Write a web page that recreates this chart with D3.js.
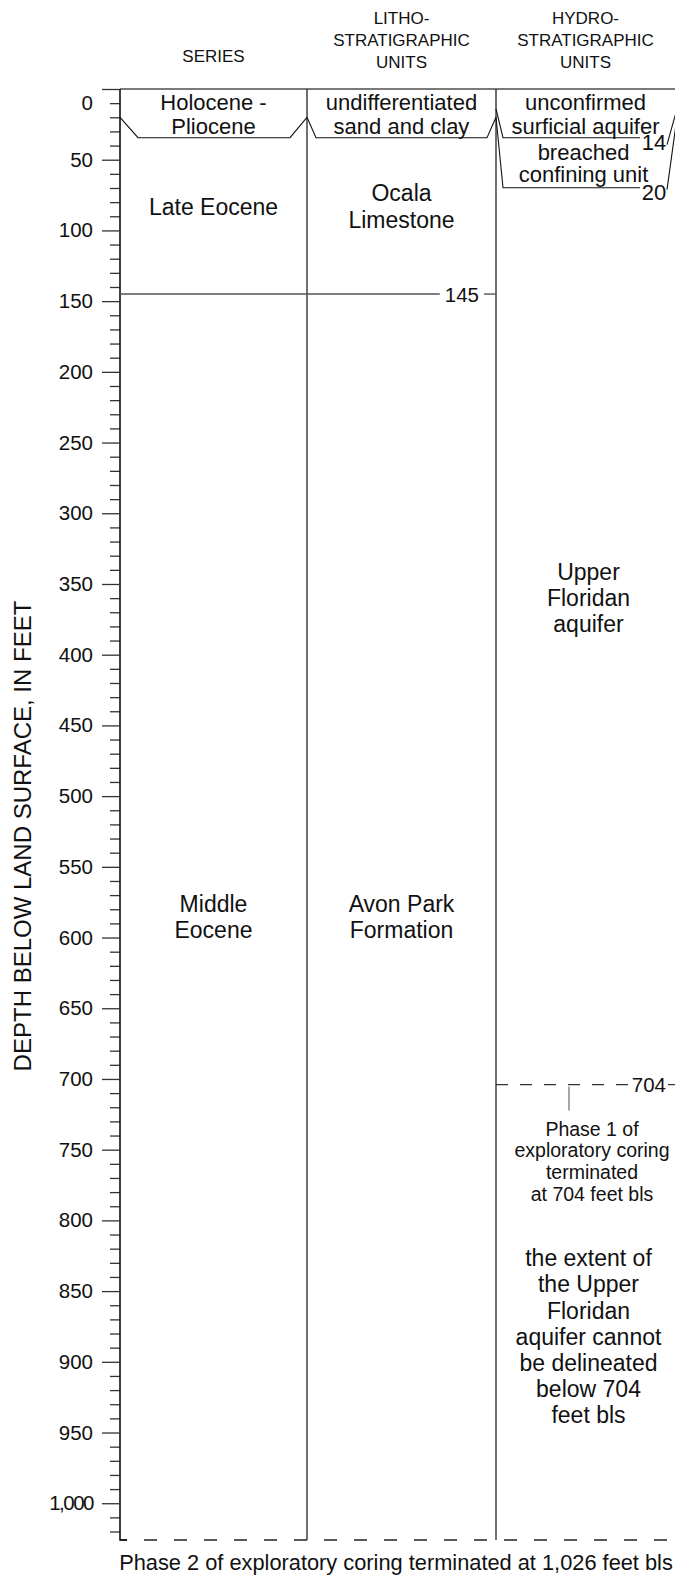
<!DOCTYPE html>
<html>
<head>
<meta charset="utf-8">
<script src="https://cdn.jsdelivr.net/npm/d3@7"></script>
<style>
  html, body { margin: 0; padding: 0; background: #fff; }
  svg { display: block; font-family: "Liberation Sans", Arial, Helvetica, sans-serif; }
</style>
</head>
<body>
<svg id="chart" width="675" height="1575"></svg>
<script>
// ---- Depth axis (feet below land surface) ----
const majorTicks = d3.range(0, 1001, 50);
const minorTicks = d3.range(0, 1021, 10);
const totalDepth = 1026;
const axisTitle = "DEPTH BELOW LAND SURFACE, IN FEET";

// ---- Column headings ----
const headers = [["SERIES"], ["LITHO-", "STRATIGRAPHIC", "UNITS"], ["HYDRO-", "STRATIGRAPHIC", "UNITS"]];

// ---- Series ----
const seriesNames   = [["Holocene -", "Pliocene"], ["Late Eocene"], ["Middle", "Eocene"]];
const seriesTops    = [0, 20, 145];
const seriesBottoms = [20, 145, 1026];

// ---- Lithostratigraphic units ----
const lithoNames   = [["undifferentiated", "sand and clay"], ["Ocala", "Limestone"], ["Avon Park", "Formation"]];
const lithoTops    = [0, 20, 145];
const lithoBottoms = [20, 145, 1026];

// ---- Hydrostratigraphic units ----
const hydroNames   = [["unconfirmed", "surficial aquifer"], ["breached", "confining unit"], ["Upper", "Floridan", "aquifer"]];
const hydroTops    = [0, 14, 20];
const hydroBottoms = [14, 20, 704];

// ---- Coring notes ----
const phase1Depth = 704;
const phase2Depth = 1026;
const phase1Note = ["Phase 1 of", "exploratory coring", "terminated", "at 704 feet bls"];
const extentNote = ["the extent of", "the Upper", "Floridan", "aquifer cannot", "be delineated", "below 704", "feet bls"];
const phase2Note = "Phase 2 of exploratory coring terminated at 1,026 feet bls";

// =====================================================================
const svg = d3.select("#chart");
const INK = "#111";
const y = d3.scaleLinear().domain([0, totalDepth]).range([89, 1540]);
const colEdges = [120, 307, 496, 677];
const colMid = i => (colEdges[i] + colEdges[i + 1]) / 2;
const thinFont = 22;   // near-surface unit names
const mainFont = 23;   // unit names in the body of each column

// Expanded rows used to print the thin near-surface units legibly
const thinRowLine = [137.7, 187.7];           // drawn contact lines
const thinRowBase = [[110, 134], [160, 182]]; // text baselines of each thin unit

function multiline(g, lines, cx, firstBaseline, step, size) {
  const t = g.append("text")
    .attr("text-anchor", "middle")
    .attr("font-size", size)
    .attr("fill", INK);
  lines.forEach((ln, k) => {
    t.append("tspan").attr("x", cx).attr("y", firstBaseline + k * step).text(ln);
  });
  return t;
}
// centre a block of lines on a depth
function block(g, lines, cx, depth, step, size) {
  const first = y(depth) + size * 0.36 - (lines.length - 1) * step / 2;
  return multiline(g, lines, cx, first, step, size);
}

// ---- Headings ----
const hg = svg.append("g");
headers.forEach((lines, i) => {
  const step = 22;
  const last = lines.length === 1 ? 62 : 68;
  multiline(hg, lines, colMid(i) - (i === 2 ? 1 : 0), last - (lines.length - 1) * step, step, 17);
});

// ---- Frame: land surface line, column dividers, base of coring ----
const frame = svg.append("g");
frame.append("line")
  .attr("x1", colEdges[0]).attr("x2", 675)
  .attr("y1", y(0)).attr("y2", y(0))
  .attr("stroke", "#7a7a7a").attr("stroke-width", 2);

[1, 2].forEach(i => {
  frame.append("line")
    .attr("x1", colEdges[i]).attr("x2", colEdges[i])
    .attr("y1", y(0)).attr("y2", y(phase2Depth))
    .attr("stroke", INK).attr("stroke-width", 1.2);
});

frame.append("line")
  .attr("x1", colEdges[0]).attr("x2", 675)
  .attr("y1", y(phase2Depth)).attr("y2", y(phase2Depth))
  .attr("stroke", "#222").attr("stroke-width", 1.3)
  .attr("stroke-dasharray", "13,17").attr("stroke-dashoffset", 6);

frame.append("text")
  .attr("x", 396).attr("y", y(phase2Depth) + 30)
  .attr("text-anchor", "middle")
  .attr("font-size", 21.8).attr("fill", INK)
  .text(phase2Note);

// ---- Depth axis ----
const minorAxis = d3.axisLeft(y)
  .tickValues(minorTicks.filter(d => d % 50 !== 0))
  .tickSize(10).tickSizeOuter(0).tickFormat("");
const majorAxis = d3.axisLeft(y)
  .tickValues(majorTicks)
  .tickSize(18).tickSizeOuter(0).tickPadding(9)
  .tickFormat(d3.format(","));

const ag1 = svg.append("g").attr("transform", `translate(${colEdges[0]},0)`).call(minorAxis);
ag1.select(".domain").remove();
ag1.selectAll(".tick line").attr("stroke", "#333").attr("stroke-width", 1.3);

const ag2 = svg.append("g").attr("transform", `translate(${colEdges[0]},0)`).call(majorAxis);
ag2.select(".domain").attr("stroke", INK).attr("stroke-width", 1.6)
  .attr("d", `M0,${y(0)}V${y(phase2Depth)}H7`);
ag2.selectAll(".tick line").attr("stroke", "#333").attr("stroke-width", 1.3);
ag2.selectAll(".tick text")
  .attr("font-family", "Liberation Sans, Arial, sans-serif")
  .attr("font-size", 20.5).attr("fill", INK);
// the "0" label sits just under the land-surface line
ag2.selectAll(".tick").filter(d => d === 0).select("text").attr("transform", "translate(0,14)");
// the thousands label is set a little tighter
ag2.selectAll(".tick").filter(d => d >= 1000).select("text").attr("letter-spacing", -1.5);

svg.append("text")
  .attr("transform", `translate(31,836) rotate(-90)`)
  .attr("text-anchor", "middle")
  .attr("font-size", 24).attr("fill", INK)
  .text(axisTitle);

// ---- Unit contacts and labels ----
const layers = svg.append("g");

// thin surface units drawn on expanded rows with connectors to true depth
function thinContact(col, depth, row, insetL, insetR, labelled) {
  const x0 = colEdges[col], x1 = colEdges[col + 1];
  const ly = thinRowLine[row];
  const path = d3.path();
  path.moveTo(x0, y(depth));
  path.lineTo(x0 + insetL, ly);
  path.lineTo(x1 - insetR, ly);
  if (!labelled) path.lineTo(x1, y(depth));
  layers.append("path").attr("d", path.toString())
    .attr("fill", "none").attr("stroke", INK).attr("stroke-width", 1.1);
  if (labelled) {
    layers.append("text")
      .attr("x", x1 - insetR + 14).attr("y", ly + 12)
      .attr("text-anchor", "middle").attr("font-size", thinFont).attr("fill", INK)
      .text(depth);
    layers.append("line")
      .attr("x1", x1 - 10).attr("y1", ly + (row === 0 ? 7 : 2))
      .attr("x2", x1).attr("y2", y(depth))
      .attr("stroke", INK).attr("stroke-width", 1.1);
  }
}

// Series column
thinContact(0, seriesBottoms[0], 0, 18, 17, false);
multiline(layers, seriesNames[0], colMid(0), thinRowBase[0][0], 24, thinFont);
block(layers, seriesNames[1], colMid(0), 83, 26, mainFont);
block(layers, seriesNames[2], colMid(0), 585, 26, mainFont);

// Lithostratigraphic column
thinContact(1, lithoBottoms[0], 0, 9, 9, false);
multiline(layers, lithoNames[0], colMid(1), thinRowBase[0][0], 24, thinFont);
block(layers, lithoNames[1], colMid(1), 83, 27, mainFont);
block(layers, lithoNames[2], colMid(1), 585, 26, mainFont);

// Contact at base of Ocala Limestone / Late Eocene across both columns
const c145 = seriesBottoms[1];
const t145 = layers.append("text")
  .attr("x", colEdges[2] - 17).attr("y", y(c145) + 7.5)
  .attr("text-anchor", "end").attr("font-size", 20.5).attr("fill", INK)
  .text(c145);
const w145 = t145.node().getComputedTextLength();
layers.append("line")
  .attr("x1", colEdges[0]).attr("x2", colEdges[2] - 17 - w145 - 5)
  .attr("y1", y(c145)).attr("y2", y(c145))
  .attr("stroke", "#555").attr("stroke-width", 1.4);
layers.append("line")
  .attr("x1", colEdges[2] - 12).attr("x2", colEdges[2])
  .attr("y1", y(c145)).attr("y2", y(c145))
  .attr("stroke", "#555").attr("stroke-width", 1.4);

// Hydrostratigraphic column
const hx = colMid(2) + 1;
thinContact(2, hydroBottoms[0], 0, 7, 37, true);
thinContact(2, hydroBottoms[1], 1, 7, 37, true);
multiline(layers, hydroNames[0], hx - 2, thinRowBase[0][0], 24, thinFont);
multiline(layers, hydroNames[1], hx - 4, thinRowBase[1][0], 22, thinFont);
block(layers, hydroNames[2], hx + 1, 360, 26, mainFont);

// Base of Phase 1 coring
const t704 = layers.append("text")
  .attr("x", colEdges[3] - 11).attr("y", y(phase1Depth) + 7.5)
  .attr("text-anchor", "end").attr("font-size", 20.5).attr("fill", INK)
  .text(phase1Depth);
const w704 = t704.node().getComputedTextLength();
layers.append("line")
  .attr("x1", colEdges[2]).attr("x2", colEdges[3] - 11 - w704 - 2)
  .attr("y1", y(phase1Depth)).attr("y2", y(phase1Depth))
  .attr("stroke", "#333").attr("stroke-width", 1.2)
  .attr("stroke-dasharray", "12,12");
layers.append("line")
  .attr("x1", colEdges[3] - 9).attr("x2", colEdges[3])
  .attr("y1", y(phase1Depth)).attr("y2", y(phase1Depth))
  .attr("stroke", "#333").attr("stroke-width", 1.2);
layers.append("line")
  .attr("x1", 569).attr("x2", 569)
  .attr("y1", y(phase1Depth) + 2).attr("y2", y(phase1Depth) + 26)
  .attr("stroke", "#777").attr("stroke-width", 1.3);

multiline(layers, phase1Note, 592, y(phase1Depth) + 51, 21.7, 19.5);
block(layers, extentNote, hx + 1, 882, 26.1, mainFont);
</script>
</body>
</html>
